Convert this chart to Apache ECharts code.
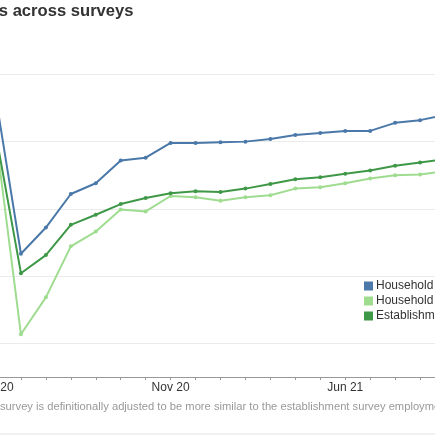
<!DOCTYPE html>
<html>
<head>
<meta charset="utf-8">
<script src="https://cdn.jsdelivr.net/npm/echarts@6/dist/echarts.min.js"></script>
<style>
html,body{margin:0;padding:0;background:#fff;}
#chart{width:435px;height:435px;}
</style>
</head>
<body>
<div id="chart"></div>
<script>
var months = ["Apr 20","May 20","Jun 20","Jul 20","Aug 20","Sep 20","Oct 20","Nov 20","Dec 20",
  "Jan 21","Feb 21","Mar 21","Apr 21","May 21","Jun 21","Jul 21","Aug 21","Sep 21","Oct 21"];
var householdSurvey = [156.4,133.3,137.2,142.2,143.8,147.2,147.6,149.8,149.8,149.9,150.0,150.4,151.0,151.3,151.6,151.6,152.8,153.2,154.0];
var householdAdjusted = [150.5,121.3,126.8,134.4,136.6,139.9,139.6,141.9,141.7,141.2,141.7,142.0,143.0,143.2,143.8,144.5,145.0,145.1,145.6];
var establishmentSurvey = [151.0,130.4,133.1,137.6,139.1,140.7,141.6,142.3,142.6,142.5,143.0,143.7,144.4,144.7,145.2,145.7,146.4,146.9,147.4];
var seriesNames = ["Household survey","Household survey (adjusted)","Establishment survey"];
var titleText = "Employment levels across surveys";
var notePrefix = "Note: The adjusted household ";
var noteText = notePrefix + "survey is definitionally adjusted to be more similar to the establishment survey employment concept.";

var FONT = "'Liberation Sans', Arial, Helvetica, sans-serif";
var colors = ["#4a78a9","#9fdc90","#3f9847"];

var cv = document.createElement('canvas').getContext('2d');
cv.font = "11.2px 'Liberation Sans', Arial";
var prefixW = cv.measureText(notePrefix).width;

var chart = echarts.init(document.getElementById('chart'), null, {renderer:'canvas'});
function mk(name, data, color){
  return {
    name: name, type: 'line', data: data,
    symbol: 'circle', symbolSize: 4, showSymbol: true,
    lineStyle: {color: color, width: 2},
    itemStyle: {color: color},
    emphasis: {disabled: true}
  };
}
chart.setOption({
  animation: false,
  color: colors,
  grid: {left: -4, right: -10, top: 74.5, bottom: 92, containLabel: false, outerBoundsMode: 'none'},
  xAxis: {
    type: 'category', data: months, boundaryGap: false, offset: 34,
    axisLine: {lineStyle: {color: '#999', width: 1}},
    axisTick: {show: true, length: 3, interval: 0, alignWithLabel: true, lineStyle: {color: '#999'}},
    axisLabel: {
      interval: function(i){ return i % 7 === 0; },
      color: '#333', fontSize: 12, fontFamily: FONT, margin: 5
    },
    splitLine: {show: false}
  },
  yAxis: {
    type: 'value', min: 120, max: 160, interval: 10,
    axisLine: {show: false}, axisTick: {show: false},
    axisLabel: {color: '#333', fontSize: 12, fontFamily: FONT},
    splitLine: {lineStyle: {color: '#ebebeb', width: 1}}
  },
  legend: {
    orient: 'vertical', left: 364, top: 280, itemGap: 3, padding: 0,
    icon: 'rect', itemWidth: 9, itemHeight: 9,
    textStyle: {color: '#333', fontSize: 12, fontFamily: FONT, padding: [0, 0, 0, -2]},
    data: seriesNames
  },
  series: [
    mk(seriesNames[0], householdSurvey, colors[0]),
    mk(seriesNames[1], householdAdjusted, colors[1]),
    mk(seriesNames[2], establishmentSurvey, colors[2])
  ],
  graphic: [
    {type: 'text', x: 133.5, y: 11.5, style: {text: titleText, fill: '#333', font: "bold 16.6px " + FONT, textAlign: 'right', textVerticalAlign: 'middle'}},
    {type: 'text', x: -prefixW, y: 406.5, style: {text: noteText, fill: '#999', font: "11.2px " + FONT, textAlign: 'left', textVerticalAlign: 'middle'}},
    {type: 'line', shape: {x1: 0, y1: 434, x2: 435, y2: 434}, style: {stroke: '#e3e3e3', lineWidth: 1}}
  ]
});
</script>
</body>
</html>
